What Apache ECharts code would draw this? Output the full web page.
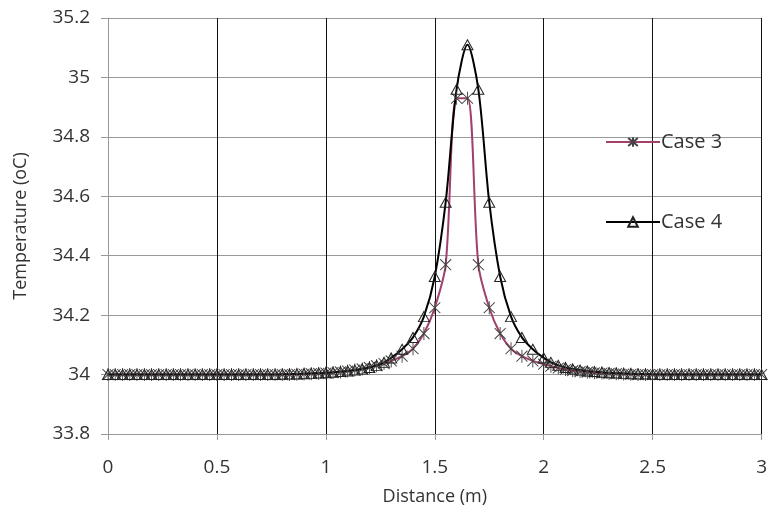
<!DOCTYPE html>
<html>
<head>
<meta charset="utf-8">
<script src="https://cdn.jsdelivr.net/npm/echarts@6/dist/echarts.min.js"></script>
<style>html,body{margin:0;padding:0;background:#fff}#c{width:770px;height:518px}</style>
</head>
<body>
<div id="c"></div>
<script>
// Distance (m) sample positions
var distance = [
  0, 0.033, 0.067, 0.1, 0.133, 0.167, 0.2, 0.233, 0.267, 0.3,
  0.333, 0.367, 0.4, 0.433, 0.467, 0.5, 0.533, 0.567, 0.6, 0.633,
  0.667, 0.7, 0.733, 0.767, 0.8, 0.833, 0.867, 0.9, 0.933, 0.967,
  1.0, 1.033, 1.067, 1.1, 1.133, 1.167, 1.2, 1.233, 1.267, 1.3,
  1.35, 1.4, 1.45, 1.5, 1.55, 1.6, 1.65, 1.7, 1.75, 1.8, 1.85, 1.9, 1.95,
  2.0, 2.033, 2.067, 2.1, 2.133, 2.167, 2.2, 2.233, 2.267, 2.3,
  2.333, 2.367, 2.4, 2.433, 2.467, 2.5, 2.533, 2.567, 2.6, 2.633,
  2.667, 2.7, 2.733, 2.767, 2.8, 2.833, 2.867, 2.9, 2.933, 2.967, 3.0
];
// Temperature (oC), Case 3
var case3 = [
  34, 34, 34, 34, 34, 34, 34, 34, 34, 34,
  34, 34, 34, 34, 34, 34, 34, 34, 34, 34,
  34, 34, 34, 34, 34, 34, 34.001, 34.002, 34.003, 34.004,
  34.005, 34.007, 34.009, 34.012, 34.015, 34.019, 34.024, 34.03, 34.037, 34.046,
  34.062, 34.087, 34.138, 34.225, 34.37, 34.93, 34.93, 34.37, 34.225, 34.138, 34.087, 34.062, 34.046,
  34.035, 34.028, 34.022, 34.017, 34.013, 34.01, 34.008, 34.006, 34.005, 34.004,
  34.003, 34.002, 34.001, 34, 34, 34, 34, 34, 34, 34,
  34, 34, 34, 34, 34, 34, 34, 34, 34, 34, 34
];
// Temperature (oC), Case 4
var case4 = [
  34, 34, 34, 34, 34, 34, 34, 34, 34, 34,
  34, 34, 34, 34, 34, 34, 34, 34, 34, 34,
  34, 34, 34, 34, 34.001, 34.002, 34.002, 34.003, 34.004, 34.005,
  34.006, 34.008, 34.01, 34.012, 34.015, 34.019, 34.024, 34.031, 34.041, 34.056,
  34.085, 34.125, 34.195, 34.33, 34.58, 34.96, 35.11, 34.96, 34.58, 34.33, 34.195, 34.125, 34.085,
  34.056, 34.041, 34.031, 34.024, 34.019, 34.015, 34.012, 34.01, 34.008, 34.006,
  34.005, 34.004, 34.003, 34.002, 34.002, 34.001, 34, 34, 34, 34,
  34, 34, 34, 34, 34, 34, 34, 34, 34, 34, 34
];
var seriesNames = ['Case 3', 'Case 4'];

function pairs(xs, ys) { return xs.map(function (x, i) { return [x, ys[i]]; }); }

var FONT = 'Open Sans';
var asterisk = 'path://M0,1L10,11M10,1L0,11M5,0L5,12';

var chart = echarts.init(document.getElementById('c'), null, {renderer: 'canvas'});
chart.setOption({
  animation: false,
  backgroundColor: '#fff',
  grid: {left: 108, right: 5, top: 18, bottom: 84, containLabel: false},
  legend: {
    orient: 'vertical', left: 600, top: 127, itemGap: 60,
    itemWidth: 54, itemHeight: 12,
    textStyle: {fontFamily: FONT, fontSize: 20, color: '#333', padding: [0, 0, 0, -4]},
    data: seriesNames
  },
  xAxis: {
    type: 'value', min: 0, max: 3, interval: 0.5,
    name: 'Distance (m)', nameLocation: 'middle', nameGap: 54,
    nameTextStyle: {fontFamily: FONT, fontSize: 18, color: '#333'},
    axisLine: {show: true, lineStyle: {color: '#999', width: 1}},
    axisTick: {show: true, length: 6, lineStyle: {color: '#999'}},
    axisLabel: {fontFamily: FONT, fontSize: 19, color: '#333', margin: 24},
    splitLine: {show: true, lineStyle: {color: '#111', width: 1}}
  },
  yAxis: {
    type: 'value', min: 33.8, max: 35.2, interval: 0.2,
    name: 'Temperature (oC)', nameLocation: 'middle', nameGap: 78, nameRotate: 90,
    nameTextStyle: {fontFamily: FONT, fontSize: 18, color: '#333'},
    axisLine: {show: true, lineStyle: {color: '#999', width: 1}},
    axisTick: {show: true, length: 7, lineStyle: {color: '#999'}},
    axisLabel: {fontFamily: FONT, fontSize: 19, color: '#333', margin: 18},
    splitLine: {show: true, lineStyle: {color: '#999', width: 1}}
  },
  series: [
    {
      name: seriesNames[0], type: 'line', data: pairs(distance, case3),
      smooth: 0.3, clip: false,
      symbol: asterisk, symbolSize: [11, 13], showAllSymbol: true,
      lineStyle: {color: '#A0406C', width: 2},
      itemStyle: {color: 'rgba(0,0,0,0)', borderColor: '#444', borderWidth: 1}
    },
    {
      name: seriesNames[1], type: 'line', data: pairs(distance, case4),
      smooth: 0.3, clip: false,
      symbol: 'triangle', symbolSize: [11, 10], showAllSymbol: true,
      lineStyle: {color: '#000', width: 2},
      itemStyle: {color: 'rgba(255,255,255,0)', borderColor: '#222', borderWidth: 1}
    }
  ]
});
</script>
</body>
</html>
